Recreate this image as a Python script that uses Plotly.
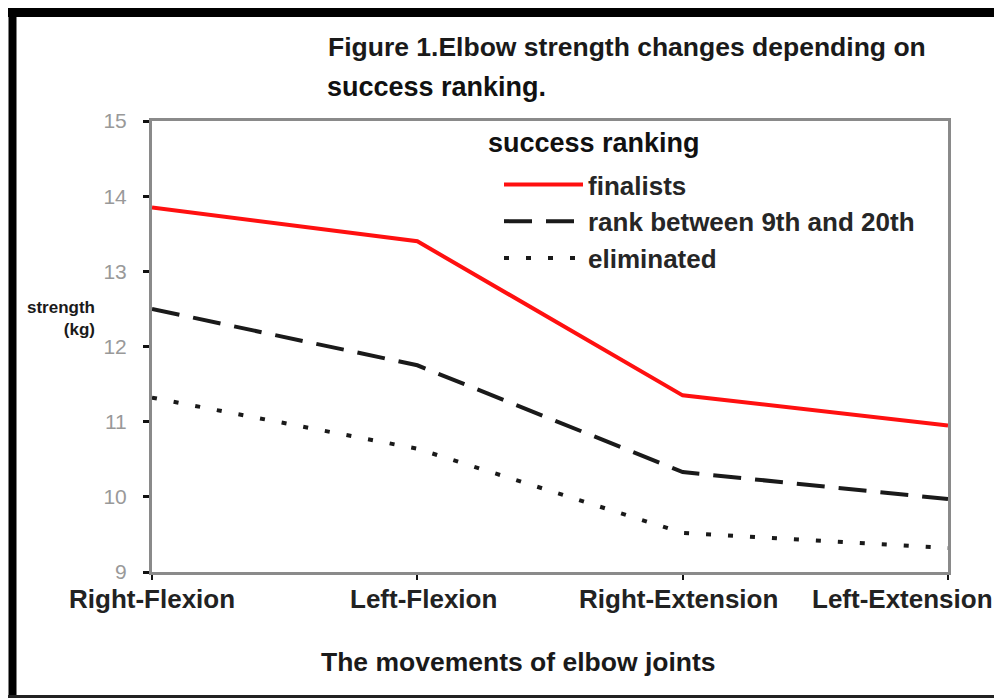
import plotly.graph_objects as go

categories = ["Right-Flexion", "Left-Flexion", "Right-Extension", "Left-Extension"]
finalists = [13.85, 13.4, 11.35, 10.95]
rank_9_20 = [12.5, 11.75, 10.33, 9.97]
eliminated = [11.32, 10.64, 9.52, 9.32]
series_names = ["finalists", "rank between 9th and 20th", "eliminated"]
y_ticks = [9, 10, 11, 12, 13, 14, 15]

# screen layout (page body has an 8px margin)
OFF = 8
W, H = 1002 - OFF, 698 - OFF
L, R, T, B = 152, 948, 121, 572   # plot area in screen pixels

def px(x):
    return (x - L) / (R - L)

def py(y):
    return (B - y) / (B - T)

fig = go.Figure()
fig.add_trace(go.Scatter(x=categories, y=finalists, name=series_names[0], mode="lines",
                         line=dict(color="#ff1010", width=4)))
fig.add_trace(go.Scatter(x=categories, y=rank_9_20, name=series_names[1], mode="lines",
                         line=dict(color="#1a1a1a", width=4, dash="28px,14px")))
fig.add_trace(go.Scatter(x=categories, y=eliminated, name=series_names[2], mode="lines",
                         line=dict(color="#1a1a1a", width=4, dash="5px,17px")))

fig.update_layout(
    width=W, height=H,
    margin=dict(l=L - OFF, r=W - (R - OFF), t=T - OFF, b=H - (B - OFF), autoexpand=False),
    paper_bgcolor="white", plot_bgcolor="white",
    font=dict(family="Liberation Sans, Arial, sans-serif", color="#1a1a1a"),
    showlegend=True,
    legend=dict(
        x=px(484), y=py(161), xanchor="left", yanchor="top",
        font=dict(size=26, color="#262626", weight="bold"),
        bgcolor="rgba(0,0,0,0)", tracegroupgap=0, itemwidth=79, indentation=15,
    ),
    xaxis=dict(
        range=[0, 3], type="category", showgrid=False, zeroline=False, automargin=False,
        showline=True, linecolor="#8a8a8a", linewidth=3, mirror=True,
        ticks="outside", ticklen=5, tickcolor="#111", tickwidth=2,
        showticklabels=False,
    ),
    yaxis=dict(
        range=[9, 15], tickvals=y_ticks, showgrid=False, zeroline=False, automargin=False,
        showline=True, linecolor="#8a8a8a", linewidth=3, mirror=True,
        ticks="outside", ticklen=6, tickcolor="#111", tickwidth=3,
        tickfont=dict(size=21, color="#999999"), ticklabelstandoff=12,
    ),
)

# category labels under the x axis (last one pulled inside the page like the original)
label_shift = [0, 6, -4, -46]
for cat, dx in zip(categories, label_shift):
    fig.add_annotation(text=f"<b>{cat}</b>", xref="x", yref="paper", x=cat, y=py(599),
                       xanchor="center", yanchor="middle", xshift=dx, showarrow=False,
                       font=dict(size=26, color="#222"))

fig.add_annotation(text="<b>Figure 1.Elbow strength changes depending on</b>",
                   xref="paper", yref="paper", x=px(326), y=py(47), xanchor="left", yanchor="middle",
                   showarrow=False, font=dict(size=26.5, color="#1a1a1a"))
fig.add_annotation(text="<b>success ranking.</b>",
                   xref="paper", yref="paper", x=px(325), y=py(87), xanchor="left", yanchor="middle",
                   showarrow=False, font=dict(size=27, color="#111"))
fig.add_annotation(text="<b>success ranking</b>",
                   xref="paper", yref="paper", x=px(486), y=py(143), xanchor="left", yanchor="middle",
                   showarrow=False, font=dict(size=27, color="#111"))
fig.add_annotation(text="<b>strength<br>(kg)</b>", align="right",
                   xref="paper", yref="paper", x=px(97), y=py(318), xanchor="right", yanchor="middle",
                   showarrow=False, font=dict(size=17, color="#1a1a1a"))
fig.add_annotation(text="<b>The movements of elbow joints</b>",
                   xref="paper", yref="paper", x=px(518), y=py(662), xanchor="center", yanchor="middle",
                   showarrow=False, font=dict(size=26.5, color="#1a1a1a"))

# outer frame
fig.add_shape(type="line", xref="paper", yref="paper", x0=px(12.5), x1=px(12.5), y0=py(8), y1=py(700),
              line=dict(color="black", width=8))
fig.add_shape(type="line", xref="paper", yref="paper", x0=px(8), x1=px(1010), y0=py(12.5), y1=py(12.5),
              line=dict(color="black", width=9))
fig.add_shape(type="line", xref="paper", yref="paper", x0=px(8), x1=px(1010), y0=py(696.5), y1=py(696.5),
              line=dict(color="#222", width=3))

fig.write_html("out.html")
